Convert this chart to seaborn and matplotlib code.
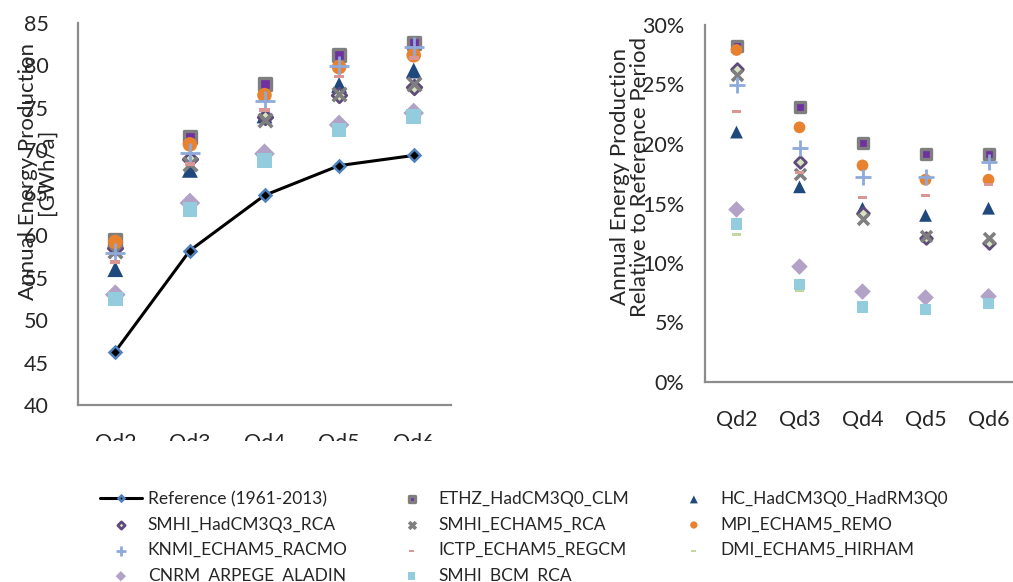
import numpy as np
import matplotlib
matplotlib.use("Agg")
import matplotlib.pyplot as plt
import seaborn as sns
from matplotlib.transforms import Bbox, TransformedBbox
from matplotlib.ticker import PercentFormatter

# ---------------- data ----------------
categories = ["Qd2", "Qd3", "Qd4", "Qd5", "Qd6"]
ref_label = "Reference (1961-2013)"
reference = [46.3, 58.2, 64.7, 68.2, 69.4]

# absolute annual energy production [GWh/a]
abs_ETHZ = [59.4, 71.6, 77.8, 81.2, 82.7]
abs_HC = [56.0, 67.7, 74.1, 77.7, 79.4]
abs_SMHI_HadCM3Q3 = [58.5, 69.0, 73.9, 76.5, 77.5]
abs_SMHI_ECHAM5 = [58.2, 68.4, 73.6, 76.6, 77.8]
abs_MPI = [59.2, 70.7, 76.5, 79.8, 81.2]
abs_KNMI = [57.9, 69.7, 75.8, 79.9, 82.2]
abs_ICTP = [56.8, 68.4, 74.7, 78.7, 80.9]
abs_DMI = [52.0, 62.7, 68.9, 72.4, 74.5]
abs_CNRM = [53.0, 63.8, 69.6, 73.0, 74.4]
abs_SMHI_BCM = [52.5, 63.0, 68.8, 72.4, 74.0]

# relative to reference period [%]
rel_ETHZ = [28.2, 23.1, 20.1, 19.2, 19.2]
rel_HC = [21.0, 16.4, 14.6, 14.0, 14.6]
rel_SMHI_HadCM3Q3 = [26.3, 18.5, 14.2, 12.1, 11.7]
rel_SMHI_ECHAM5 = [25.8, 17.5, 13.7, 12.3, 12.1]
rel_MPI = [27.9, 21.4, 18.2, 17.0, 17.0]
rel_KNMI = [25.0, 19.7, 17.2, 17.2, 18.5]
rel_ICTP = [22.7, 17.6, 15.5, 15.7, 16.6]
rel_DMI = [12.4, 7.7, 6.5, 6.2, 7.3]
rel_CNRM = [14.5, 9.7, 7.6, 7.1, 7.2]
rel_SMHI_BCM = [13.3, 8.2, 6.3, 6.1, 6.6]

series = [
    ("ETHZ_HadCM3Q0_CLM", abs_ETHZ, rel_ETHZ),
    ("HC_HadCM3Q0_HadRM3Q0", abs_HC, rel_HC),
    ("SMHI_HadCM3Q3_RCA", abs_SMHI_HadCM3Q3, rel_SMHI_HadCM3Q3),
    ("SMHI_ECHAM5_RCA", abs_SMHI_ECHAM5, rel_SMHI_ECHAM5),
    ("MPI_ECHAM5_REMO", abs_MPI, rel_MPI),
    ("KNMI_ECHAM5_RACMO", abs_KNMI, rel_KNMI),
    ("ICTP_ECHAM5_REGCM", abs_ICTP, rel_ICTP),
    ("DMI_ECHAM5_HIRHAM", abs_DMI, rel_DMI),
    ("CNRM_ARPEGE_ALADIN", abs_CNRM, rel_CNRM),
    ("SMHI_BCM_RCA", abs_SMHI_BCM, rel_SMHI_BCM),
]

# ---------------- styles ----------------
dash = [(-1, -0.38), (1, -0.38), (1, 0.38), (-1, 0.38)]
styles = {
    "ETHZ_HadCM3Q0_CLM": dict(marker="s", s=70, color="#7030a0", edgecolor="#7f7f7f", linewidth=2.4),
    "HC_HadCM3Q0_HadRM3Q0": dict(marker="^", s=130, color="#1f497d", edgecolor="none"),
    "SMHI_HadCM3Q3_RCA": dict(marker="D", s=55, color="#d7e4bd", edgecolor="#604a7b", linewidth=2.0),
    "SMHI_ECHAM5_RCA": dict(marker="x", s=95, color="#7f7f7f", linewidth=2.6),
    "MPI_ECHAM5_REMO": dict(marker="o", s=110, color="#e8822e", edgecolor="none"),
    "KNMI_ECHAM5_RACMO": dict(marker="+", s=220, color="#8eaadb", linewidth=2.0),
    "ICTP_ECHAM5_REGCM": dict(marker=dash, s=55, color="#d99694", edgecolor="none"),
    "DMI_ECHAM5_HIRHAM": dict(marker=dash, s=55, color="#c3d69b", edgecolor="none"),
    "CNRM_ARPEGE_ALADIN": dict(marker="D", s=110, color="#b3a2c7", edgecolor="none"),
    "SMHI_BCM_RCA": dict(marker="s", s=110, color="#93cddd", edgecolor="none"),
}

sns.set_style("white")
plt.rcParams["font.family"] = ["Lato", "DejaVu Sans"]
GREY = "#8c8c8c"

W, H = 1013, 582
fig = plt.figure(figsize=(W / 100, H / 100), dpi=100)
axL = fig.add_axes([78 / W, 1 - 405 / H, 373 / W, 382 / H])
axR = fig.add_axes([705 / W, 1 - 382 / H, 308 / W, 357 / H])

x = np.arange(len(categories))

sns.lineplot(x=x, y=reference, ax=axL, color="black", linewidth=2.2,
             marker="D", markersize=6, markerfacecolor="black",
             markeredgecolor="#4f81bd", markeredgewidth=1.8,
             label=ref_label, legend=False, zorder=2)

for name, a, r in series:
    st = dict(styles[name])
    sns.scatterplot(x=x, y=a, ax=axL, label=name, legend=False, zorder=3, **st)
    st2 = dict(st)
    st2["s"] = st["s"] * 0.65
    sns.scatterplot(x=x, y=r, ax=axR, legend=False, zorder=3, **st2)

# ---------------- axes styling ----------------
for ax in (axL, axR):
    for sp in ("top", "right"):
        ax.spines[sp].set_visible(False)
    for sp in ("left", "bottom"):
        ax.spines[sp].set_color(GREY)
        ax.spines[sp].set_linewidth(1.6)
    ax.set_xticks(x)
    ax.set_xticklabels(categories)
    ax.set_xticks(np.arange(0.5, len(categories) - 0.5, 1), minor=True)
    ax.tick_params(axis="x", which="major", length=0, pad=20, labelsize=15.5)
    ax.tick_params(axis="x", which="minor", length=7, width=1.6, color=GREY, direction="out")
    ax.tick_params(axis="y", which="major", width=1.6, color=GREY, direction="out", labelsize=15.5)
    ax.set_xlabel("")

axL.set_xlim(-0.5, 4.5)
axL.set_ylim(40, 85)
axL.set_yticks(np.arange(40, 86, 5))
axL.tick_params(axis="y", length=8, pad=13)
axL.set_ylabel("Annual Energy Production\n[GWh/a]", fontsize=16, linespacing=0.95)
axL.yaxis.set_label_coords(-0.057, 0.61)

axR.set_xlim(-0.5, -0.5 + 308 / 63)
axR.set_ylim(0, 30)
axR.set_yticks(np.arange(0, 31, 5))
axR.yaxis.set_major_formatter(PercentFormatter(100, decimals=0))
axR.tick_params(axis="y", length=12, pad=3)
axR.set_ylabel("Annual Energy Production\nRelative to Reference Period", fontsize=16, linespacing=0.95)
axR.yaxis.set_label_coords(-0.18, 0.575)

# left category labels are cut off in the original
clip = TransformedBbox(Bbox([[0, 1 - 441 / H], [1, 1]]), fig.transFigure)
for t in axL.xaxis.get_major_ticks():
    t.label1.set_clip_on(True)
    t.label1.set_clip_box(clip)

# ---------------- legend ----------------
handles, labels = axL.get_legend_handles_labels()
hmap = dict(zip(labels, handles))
cols = [
    ([ref_label, "SMHI_HadCM3Q3_RCA", "KNMI_ECHAM5_RACMO", "CNRM_ARPEGE_ALADIN"], 100),
    (["ETHZ_HadCM3Q0_CLM", "SMHI_ECHAM5_RCA", "ICTP_ECHAM5_REGCM", "SMHI_BCM_RCA"], 391),
    (["HC_HadCM3Q0_HadRM3Q0", "MPI_ECHAM5_REMO", "DMI_ECHAM5_HIRHAM"], 673),
]
for labs, x0 in cols:
    fig.legend([hmap[l] for l in labs], labs, loc="upper left",
               bbox_to_anchor=(x0 / W, 1 - 491 / H), frameon=False,
               fontsize=12.5, handlelength=2.4, handletextpad=0.35,
               labelspacing=0.55, borderaxespad=0, borderpad=0, markerscale=0.5)

fig.savefig("out.png", dpi=100, facecolor="white")
